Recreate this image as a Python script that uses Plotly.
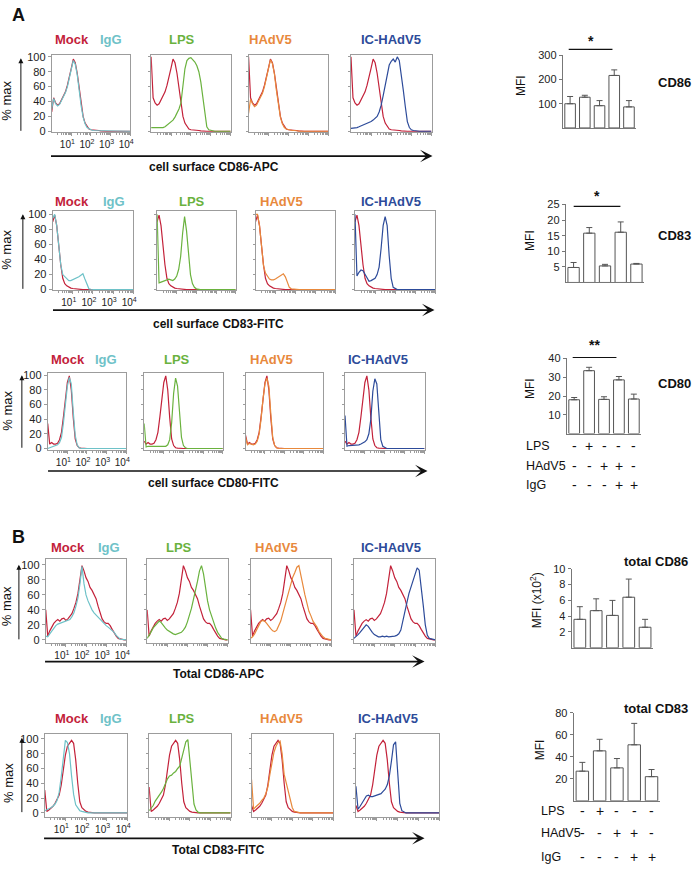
import math
import plotly.graph_objects as go

W, H = 696, 870
FONT = "Liberation Sans, Arial, Helvetica, sans-serif"

# ---------------- data ----------------
LOG_BINS = [0.0, 0.1, 0.2, 0.3, 0.4, 0.5, 0.6, 0.7, 0.8, 0.9,
            1.0, 1.1, 1.2, 1.3, 1.4, 1.5, 1.6, 1.7, 1.8, 1.9,
            2.0, 2.1, 2.2, 2.3, 2.4, 2.5, 2.6, 2.7, 2.8, 2.9,
            3.0, 3.1, 3.2, 3.3, 3.4, 3.5, 3.6, 3.7, 3.8, 3.9, 4.0]
TICK_DECADES = [1, 2, 3, 4]
TICK_TEXT = ["10<sup>1</sup>", "10<sup>2</sup>", "10<sup>3</sup>", "10<sup>4</sup>"]
PCT_TICKS = [0, 20, 40, 60, 80, 100]
SAMPLES = ["Mock", "IgG", "LPS", "HAdV5", "IC-HAdV5"]

# A: cell surface CD86-APC (% max)
A1_MOCK = [26, 45, 38, 35, 37, 42, 47, 53, 62, 72, 85, 97, 92, 78, 56, 35, 20, 11, 6, 3,
           2, 2, 1, 1, 1, 0.5, 0, 0, 0, 0, 0, 0, 0, 0, 0, 0, 0, 0, 0, 0, 0]
A1_MOCK_EDGE = [26, 100, 100, 100]
A1_IGG = [30, 44, 37, 34, 36, 41, 46, 52, 60, 70, 84, 95, 90, 76, 54, 34, 19, 10, 5, 3,
          2, 1, 1, 1, 0.5, 0.5, 0, 0, 0, 0, 0, 0, 0, 0, 0, 0, 0, 0, 0, 0, 0]
A1_LPS = [5, 5, 4, 4, 4, 4, 5, 6, 8, 10, 13, 15, 19, 24, 30, 38, 60, 84, 95, 98,
          99, 96, 93, 88, 80, 66, 44, 22, 6, 2, 1, 0.5, 0, 0, 0, 0, 0, 0, 0, 0, 0]
A1_HADV5 = [24, 43, 37, 33, 35, 40, 45, 51, 60, 71, 84, 96, 91, 77, 55, 34, 19, 10, 5, 3,
            2, 1, 1, 1, 0.5, 0.5, 0, 0, 0, 0, 0, 0, 0, 0, 0, 0, 0, 0, 0, 0, 0]
A1_IC = [4, 4, 5, 5, 6, 7, 8, 9, 10, 12, 13, 15, 17, 20, 26, 35, 48, 62, 80, 89,
         94, 97, 93, 100, 95, 78, 55, 33, 13, 5, 2, 1, 0.5, 0, 0, 0, 0, 0, 0, 0, 0]

# A: cell surface CD83-FITC
A2_MOCK = [90, 99, 85, 55, 33, 15, 8, 5, 3, 2, 1.5, 1, 0.5, 0, 0, 0, 0, 0, 0, 0,
           0, 0, 0, 0, 0, 0, 0, 0, 0, 0, 0, 0, 0, 0, 0, 0, 0, 0, 0, 0, 0]
A2_MOCK_EDGE = [90, 90, 90, 90]
A2_IGG = [95, 100, 85, 55, 33, 20, 17, 14, 12, 12, 13, 14, 15, 17, 19, 21, 14, 6, 1, 0.5,
          0, 0, 0, 0, 0, 0, 0, 0, 0, 0, 0, 0, 0, 0, 0, 0, 0, 0, 0, 0, 0]
A2_LPS = [100, 9, 10, 11, 13, 14, 14, 13, 12, 14, 18, 27, 44, 75, 97, 78, 44, 20, 8, 3,
          1, 0, 0, 0, 0, 0, 0, 0, 0, 0, 0, 0, 0, 0, 0, 0, 0, 0, 0, 0, 0]
A2_HADV5 = [100, 100, 85, 55, 32, 22, 17, 14, 13, 13, 14, 16, 18, 20, 21, 17, 9, 3, 1, 0.5,
            0, 0, 0, 0, 0, 0, 0, 0, 0, 0, 0, 0, 0, 0, 0, 0, 0, 0, 0, 0, 0]
A2_IC = [100, 18, 23, 26, 25, 20, 15, 11, 12, 13, 15, 20, 30, 55, 85, 97, 85, 45, 15, 3,
         1, 0, 0, 0, 0, 0, 0, 0, 0, 0, 0, 0, 0, 0, 0, 0, 0, 0, 0, 0, 0]

# A: cell surface CD80-FITC
A3_MOCK = [34, 6, 8, 6, 6, 7, 12, 22, 43, 70, 90, 99, 80, 42, 13, 4, 1, 0.5, 0, 0,
           0, 0, 0, 0, 0, 0, 0, 0, 0, 0, 0, 0, 0, 0, 0, 0, 0, 0, 0, 0, 0]
A3_MOCK_EDGE = [34, 10, 18, 10]
A3_IGG = [0, 1, 2, 3, 4, 5, 8, 15, 35, 62, 85, 97, 88, 50, 18, 5, 1, 0, 0, 0,
          0, 0, 0, 0, 0, 0, 0, 0, 0, 0, 0, 0, 0, 0, 0, 0, 0, 0, 0, 0, 0]
A3_LPS = [34, 2, 3, 3, 2, 2, 2, 2, 2, 2, 2, 3, 5, 12, 35, 75, 96, 85, 50, 15,
          4, 1, 0, 0, 0, 0, 0, 0, 0, 0, 0, 0, 0, 0, 0, 0, 0, 0, 0, 0, 0]
A3_HADV5 = [15, 5, 7, 6, 5, 6, 10, 20, 40, 68, 88, 96, 85, 48, 15, 4, 1, 0, 0, 0,
            0, 0, 0, 0, 0, 0, 0, 0, 0, 0, 0, 0, 0, 0, 0, 0, 0, 0, 0, 0, 0]
A3_IC = [45, 3, 4, 4, 4, 4, 4, 5, 6, 7, 9, 12, 20, 40, 78, 95, 88, 50, 12, 3,
         1, 0, 0, 0, 0, 0, 0, 0, 0, 0, 0, 0, 0, 0, 0, 0, 0, 0, 0, 0, 0]

# B: total CD86-APC
B1_MOCK = [40, 5, 12, 18, 22, 25, 27, 25, 28, 29, 26, 28, 31, 35, 42, 50, 62, 80, 99, 92,
           83, 78, 70, 66, 60, 55, 45, 35, 28, 24, 22, 22, 19, 14, 9, 5, 2, 1, 0, 0, 0]
B1_MOCK_EDGE = [40, 40, 40, 40]
B1_IGG = [5, 4, 8, 12, 16, 19, 21, 22, 22, 23, 24, 25, 27, 31, 36, 45, 56, 75, 98, 75,
          60, 52, 45, 40, 36, 33, 30, 27, 24, 22, 19, 17, 15, 13, 10, 6, 3, 1, 0.5, 0, 0]
B1_LPS = [2, 6, 11, 16, 19, 22, 25, 23, 19, 16, 13, 11, 9, 8, 7, 8, 9, 10, 13, 17,
          24, 32, 42, 54, 65, 78, 92, 99, 88, 66, 52, 40, 31, 23, 16, 10, 5, 2, 1, 0, 0]
B1_HADV5 = [2, 4, 8, 14, 20, 24, 26, 25, 22, 18, 15, 12, 11, 13, 18, 25, 35, 45, 57, 66,
            75, 84, 90, 97, 99, 88, 73, 60, 47, 38, 32, 25, 21, 17, 11, 7, 4, 2, 1, 0, 0]
B1_IC = [2, 4, 7, 10, 13, 17, 20, 18, 13, 10, 7, 5, 4, 4, 5, 4, 5, 4, 4, 5,
         5, 6, 8, 13, 24, 36, 50, 62, 70, 78, 85, 96, 93, 72, 46, 20, 6, 2, 1, 0, 0]

# B: total CD83-FITC
B2_MOCK = [31, 2, 4, 6, 9, 13, 18, 24, 38, 58, 78, 90, 95, 98, 94, 72, 40, 15, 7, 4,
           2, 1, 0.5, 0, 0, 0, 0, 0, 0, 0, 0, 0, 0, 0, 0, 0, 0, 0, 0, 0, 0]
B2_MOCK_EDGE = [31, 35, 10, 10]
B2_IGG = [3, 4, 5, 7, 9, 12, 17, 28, 49, 72, 98, 95, 80, 50, 25, 11, 6, 3, 2, 1,
          0.5, 0, 0, 0, 0, 0, 0, 0, 0, 0, 0, 0, 0, 0, 0, 0, 0, 0, 0, 0, 0]
B2_LPS = [3, 6, 10, 16, 20, 23, 28, 33, 40, 46, 50, 51, 54, 56, 60, 63, 74, 85, 96, 99,
          72, 38, 12, 4, 1, 0, 0, 0, 0, 0, 0, 0, 0, 0, 0, 0, 0, 0, 0, 0, 0]
B2_HADV5 = [45, 5, 8, 10, 13, 17, 20, 26, 35, 52, 68, 82, 90, 95, 97, 80, 52, 40, 30, 18,
            7, 2, 1, 0, 0, 0, 0, 0, 0, 0, 0, 0, 0, 0, 0, 0, 0, 0, 0, 0, 0]
B2_IC = [36, 5, 9, 14, 20, 23, 24, 22, 22, 23, 23, 24, 26, 29, 32, 38, 50, 70, 92, 96,
         50, 13, 3, 1, 0, 0, 0, 0, 0, 0, 0, 0, 0, 0, 0, 0, 0, 0, 0, 0, 0]

# Bar charts (MFI, mean and upper error)
CONDITIONS = [0, 1, 2, 3, 4]
LPS_SIGNS = ["-", "+", "-", "-", "-"]
HADV5_SIGNS = ["-", "-", "+", "+", "-"]
IGG_SIGNS = ["-", "-", "-", "+", "+"]
CD86_MFI = [100, 127, 92, 217, 87]
CD86_ERR = [30, 8, 21, 23, 26]
CD83_MFI = [4.8, 15.8, 5.3, 16.1, 5.9]
CD83_ERR = [1.6, 1.8, 0.5, 3.3, 0.2]
CD80_MFI = [18.0, 33.5, 18.2, 28.6, 18.4]
CD80_ERR = [1.2, 1.8, 1.4, 1.8, 2.6]
TCD86_MFI = [3.6, 4.7, 4.1, 6.4, 2.6]
TCD86_ERR = [1.6, 1.5, 1.9, 2.3, 1.0]
TCD83_MFI = [27, 45.5, 30, 51, 22]
TCD83_ERR = [8, 10.5, 8.5, 19.5, 6.5]

# ---------------- styling / layout ----------------
COL = {"Mock": "#C3223A", "IgG": "#6EC2C8", "LPS": "#6AB23E",
       "HAdV5": "#E8893C", "IC-HAdV5": "#2D4B9A"}
FRAME = "#9c9c9c"


def px(x):
    return x / W


def py(y):
    return 1 - y / H


ROWS = [
    dict(curves=[A1_MOCK, A1_IGG, A1_LPS, A1_HADV5, A1_IC], edge=A1_MOCK_EDGE,
         top=50, bot=128, yr=[-1.5, 102], panels=[(52, 131), (152, 232), (250, 330), (353, 434)],
         lab_y=34, lab_x=[72, 112, 183, 272, 393], arrow_y=152, arrow_x=(52, 435),
         title="cell surface CD86-APC", title_xy=(215, 163), yarrow=(21, 127, 53), pmax=(7, 96)),
    dict(curves=[A2_MOCK, A2_IGG, A2_LPS, A2_HADV5, A2_IC], edge=A2_MOCK_EDGE,
         top=208, bot=288, yr=[-1, 104], panels=[(53, 134), (158, 237), (257, 337), (357, 438)],
         lab_y=198, lab_x=[72, 115, 193, 283, 393], arrow_y=308, arrow_x=(54, 437),
         title="cell surface CD83-FITC", title_xy=(220, 322), yarrow=(23, 287, 211), pmax=(7, 247)),
    dict(curves=[A3_MOCK, A3_IGG, A3_LPS, A3_HADV5, A3_IC], edge=A3_MOCK_EDGE,
         top=372, bot=450, yr=[-2.5, 102.5], panels=[(48, 127), (145, 224), (247, 325), (347, 427)],
         lab_y=358, lab_x=[68, 107, 178, 273, 380], arrow_y=471, arrow_x=(49, 430),
         title="cell surface CD80-FITC", title_xy=(215, 483), yarrow=(22, 448, 374), pmax=(8, 410)),
    dict(curves=[B1_MOCK, B1_IGG, B1_LPS, B1_HADV5, B1_IC], edge=B1_MOCK_EDGE,
         top=560, bot=645, yr=[-4, 108], panels=[(46, 127), (148, 229), (252, 333), (356, 438)],
         lab_y=548, lab_x=[68, 110, 180, 278, 393], arrow_y=664, arrow_x=(46, 427),
         title="Total CD86-APC", title_xy=(220, 677), yarrow=(19, 642, 566), pmax=(6, 608)),
    dict(curves=[B2_MOCK, B2_IGG, B2_LPS, B2_HADV5, B2_IC], edge=B2_MOCK_EDGE,
         top=737, bot=821, yr=[-5, 107], panels=[(45, 128), (150, 232), (253, 335), (358, 442)],
         lab_y=722, lab_x=[72, 112, 183, 283, 390], arrow_y=843, arrow_x=(45, 427),
         title="Total CD83-FITC", title_xy=(220, 855), yarrow=(22, 817, 741), pmax=(8, 787)),
]

BARS = [
    dict(vals=CD86_MFI, err=CD86_ERR, x0=566, x1=640, top=50, bot=123.5, yr=[0, 300],
         ticks=[100, 200, 300], ylab="MFI", ylab_xy=(524, 80), name=("CD86", 678, 77)),
    dict(vals=CD83_MFI, err=CD83_ERR, x0=569, x1=648, top=201, bot=280, yr=[0, 25],
         ticks=[5, 10, 15, 20, 25], ylab="MFI", ylab_xy=(533, 237), name=("CD83", 678, 232)),
    dict(vals=CD80_MFI, err=CD80_ERR, x0=570, x1=645, top=357, bot=433, yr=[0, 40],
         ticks=[10, 20, 30, 40], ylab="MFI", ylab_xy=(533, 387), name=("CD80", 678, 382)),
    dict(vals=TCD86_MFI, err=TCD86_ERR, x0=575, x1=657, top=570, bot=650, yr=[0, 10],
         ticks=[2, 4, 6, 8, 10], ylab="MFI (x10<sup>2</sup>)", ylab_xy=(539, 602),
         name=("total CD86", 660, 563)),
    dict(vals=TCD83_MFI, err=TCD83_ERR, x0=577, x1=664, top=716, bot=805, yr=[0, 80],
         ticks=[20, 40, 60, 80], ylab="MFI", ylab_xy=(544, 753), name=("total CD83", 660, 712)),
]

MINOR = [d + math.log10(k) for d in range(4) for k in range(2, 10)]

fig = go.Figure()
layout = {}
annotations = []
shapes = []


def ann(text, x, y, size=12, color="#111111", bold=False, angle=0, xanchor="center"):
    return dict(text=f"<b>{text}</b>" if bold else text, x=px(x), y=py(y),
                xref="paper", yref="paper", showarrow=False, textangle=angle,
                font=dict(family=FONT, size=size, color=color),
                xanchor=xanchor, yanchor="middle")


def arrow(xh, yh, xt, yt, width, head, size):
    return dict(text="", x=px(xh), y=py(yh), xref="paper", yref="paper",
                ax=xt - xh, ay=yt - yh, axref="pixel", ayref="pixel", showarrow=True,
                arrowhead=head, arrowsize=size, arrowwidth=width, arrowcolor="#111111")


idx = 0
for r in ROWS:
    mock = r["curves"][0]
    for p, (l, rr) in enumerate(r["panels"]):
        idx += 1
        xk = "xaxis" if idx == 1 else f"xaxis{idx}"
        yk = "yaxis" if idx == 1 else f"yaxis{idx}"
        xid = "x" if idx == 1 else f"x{idx}"
        yid = "y" if idx == 1 else f"y{idx}"
        layout[xk] = dict(domain=[px(l), px(rr)], range=[0, 4], anchor=yid,
                          showline=True, linecolor=FRAME, linewidth=1, mirror=True,
                          ticks="outside", ticklen=3, tickcolor=FRAME,
                          tickvals=TICK_DECADES, ticktext=TICK_TEXT,
                          showticklabels=(p == 0), ticklabelshift=-4,
                          tickfont=dict(family=FONT, size=10, color="#222222"),
                          minor=dict(tickvals=MINOR, ticklen=2, ticks="outside", tickcolor=FRAME),
                          showgrid=False, zeroline=False)
        layout[yk] = dict(domain=[py(r["bot"]), py(r["top"])], range=r["yr"], anchor=xid,
                          showline=True, linecolor=FRAME, linewidth=1, mirror=True,
                          ticks="outside", ticklen=3 if p == 0 else 2, tickcolor=FRAME,
                          tickvals=PCT_TICKS, showticklabels=(p == 0),
                          tickfont=dict(family=FONT, size=11, color="#222222"),
                          showgrid=False, zeroline=False)
        mock_y = [r["edge"][p]] + mock[1:]
        fig.add_trace(go.Scatter(x=LOG_BINS, y=mock_y, mode="lines", xaxis=xid, yaxis=yid,
                                 line=dict(color=COL["Mock"], width=1.2), hoverinfo="skip"))
        if p == 0:
            other, name = r["curves"][1], "IgG"
        else:
            other, name = r["curves"][p + 1], SAMPLES[p + 1]
        fig.add_trace(go.Scatter(x=LOG_BINS, y=other, mode="lines", xaxis=xid, yaxis=yid,
                                 line=dict(color=COL[name], width=1.2), hoverinfo="skip"))
    # labels above the row
    for s, lx in zip(SAMPLES, r["lab_x"]):
        annotations.append(ann(s, lx, r["lab_y"], size=13, color=COL[s], bold=True))
    # axis arrows and titles
    annotations.append(arrow(r["arrow_x"][1], r["arrow_y"], r["arrow_x"][0], r["arrow_y"], 1.6, 3, 1.3))
    annotations.append(ann(r["title"], r["title_xy"][0], r["title_xy"][1], size=12, bold=True))
    xa, yb, yt = r["yarrow"]
    annotations.append(arrow(xa, yt, xa, yb, 1, 2, 1))
    annotations.append(ann("% max", r["pmax"][0], r["pmax"][1], size=13, angle=-90))

annotations.append(ann("A", 19, 9, size=18, bold=True))
annotations.append(ann("B", 19, 538, size=18, bold=True))

for b in BARS:
    idx += 1
    xk, yk, xid, yid = f"xaxis{idx}", f"yaxis{idx}", f"x{idx}", f"y{idx}"
    layout[xk] = dict(domain=[px(b["x0"]), px(b["x1"])], range=[-0.5, 4.5], anchor=yid,
                      showline=True, linecolor="#777777", linewidth=1, showticklabels=False,
                      ticks="", showgrid=False, zeroline=False)
    layout[yk] = dict(domain=[py(b["bot"]), py(b["top"])], range=b["yr"], anchor=xid,
                      showline=True, linecolor="#777777", linewidth=1, ticks="outside",
                      ticklen=3, tickcolor="#777777", tickvals=b["ticks"],
                      tickfont=dict(family=FONT, size=11, color="#222222"),
                      showgrid=False, zeroline=False)
    fig.add_trace(go.Bar(x=CONDITIONS, y=b["vals"], xaxis=xid, yaxis=yid, width=0.72,
                         marker=dict(color="white", line=dict(color="#555555", width=1)),
                         error_y=dict(type="data", symmetric=False, array=b["err"],
                                      arrayminus=[0, 0, 0, 0, 0], color="#555555",
                                      thickness=1, width=3),
                         hoverinfo="skip"))
    annotations.append(ann(b["ylab"], b["ylab_xy"][0], b["ylab_xy"][1], size=12, angle=-90))
    annotations.append(ann(b["name"][0], b["name"][1], b["name"][2], size=13, bold=True))
    b["xid"] = xid

# significance marks
SIG = [(572, 616, 44, "*", 35), (577, 624, 203, "*", 192), (576, 620, 356, "**", 343)]
for x0, x1, yl, txt, yt in SIG:
    shapes.append(dict(type="line", xref="paper", yref="paper", x0=px(x0), x1=px(x1),
                       y0=py(yl), y1=py(yl), line=dict(color="#111111", width=1.2)))
    annotations.append(ann(txt, (x0 + x1) / 2, yt, size=14, bold=True))

# treatment tables
for b, lx, ys in [(BARS[2], 527, (446, 466, 485)), (BARS[4], 542, (815, 838, 862))]:
    for lab, signs, yy in zip(["LPS", "HAdV5", "IgG"], [LPS_SIGNS, HADV5_SIGNS, IGG_SIGNS], ys):
        annotations.append(ann(lab, lx, yy, size=12.5, xanchor="left"))
        for c, sg in zip(CONDITIONS, signs):
            annotations.append(dict(text=sg, x=c, y=py(yy), xref=b["xid"], yref="paper",
                                    showarrow=False, xanchor="center", yanchor="middle",
                                    font=dict(family=FONT, size=14, color="#111111")))

fig.update_layout(**layout)
fig.update_layout(width=W, height=H, margin=dict(l=0, r=0, t=0, b=0),
                  paper_bgcolor="white", plot_bgcolor="white", showlegend=False,
                  annotations=annotations, shapes=shapes, bargap=0.3,
                  font=dict(family=FONT))
fig.write_html("out.html", config={"displayModeBar": False},
               post_script="document.body.style.margin='0';document.body.style.overflow='hidden';")
